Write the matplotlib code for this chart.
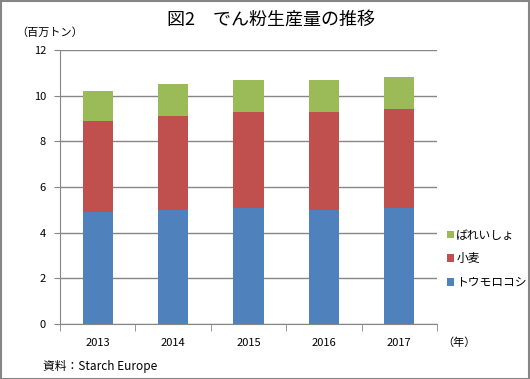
import matplotlib
matplotlib.use("Agg")
import matplotlib.pyplot as plt
from matplotlib.patches import Rectangle

plt.rcParams['font.family'] = ['Noto Sans CJK JP', 'DejaVu Sans']

years = ["2013", "2014", "2015", "2016", "2017"]
corn = [4.9, 5.0, 5.1, 5.0, 5.1]
wheat = [4.0, 4.1, 4.2, 4.3, 4.3]
potato = [1.3, 1.4, 1.4, 1.4, 1.4]
series_names = ["トウモロコシ", "小麦", "ばれいしょ"]
colors = ["#4f81bd", "#c0504d", "#9bbb59"]

W, H = 530, 379
fig = plt.figure(figsize=(W / 100, H / 100), dpi=100)
ax = fig.add_axes([60 / W, 1 - 324 / H, (437 - 60) / W, (324 - 50) / H])

x = list(range(len(years)))
bottom = [0] * len(years)
handles = []
for vals, name, c in zip([corn, wheat, potato], series_names, colors):
    b = ax.bar(x, vals, width=0.4, bottom=bottom, color=c, label=name, zorder=3)
    handles.append(b)
    bottom = [a + v for a, v in zip(bottom, vals)]

grey = "#868686"
ax.set_ylim(0, 12)
ax.set_yticks(range(0, 13, 2))
ax.set_xlim(-0.5, len(years) - 0.5)
ax.set_xticks(x)
ax.set_xticklabels(years)
ax.set_xticks([i - 0.5 for i in range(len(years) + 1)], minor=True)
ax.tick_params(axis="x", which="major", length=0, pad=10, labelsize=8)
ax.tick_params(axis="x", which="minor", length=5, color=grey)
ax.tick_params(axis="y", length=4, color=grey, labelsize=8, pad=6)
ax.grid(axis="y", color=grey, linewidth=1, zorder=0)
for s in ["top", "right"]:
    ax.spines[s].set_visible(False)
for s in ["left", "bottom"]:
    ax.spines[s].set_color(grey)

fig.text(271 / W, 1 - 20 / H, "図2\u3000でん粉生産量の推移", ha="center", va="center", fontsize=13)
fig.text(16 / W, 1 - 33 / H, "（百万トン）", ha="left", va="center", fontsize=8)
fig.text(442 / W, 1 - 343 / H, "（年）", ha="left", va="center", fontsize=8)
fig.text(43 / W, 1 - 366 / H, "資料：Starch Europe", ha="left", va="center", fontsize=8.5)

leg = fig.legend(handles[::-1], series_names[::-1], loc="upper left",
                 bbox_to_anchor=(442 / W, 1 - 224 / H), frameon=False,
                 handlelength=0.6, handleheight=0.6, handletextpad=0.2,
                 labelspacing=0.9, fontsize=8.5, borderaxespad=0)

fig.patches.append(Rectangle((0.5 / W, 0.5 / H), 1 - 1.5 / W, 1 - 1.5 / H,
                             transform=fig.transFigure, fill=False,
                             edgecolor=grey, linewidth=1.5))

fig.savefig("out.png", dpi=100)
